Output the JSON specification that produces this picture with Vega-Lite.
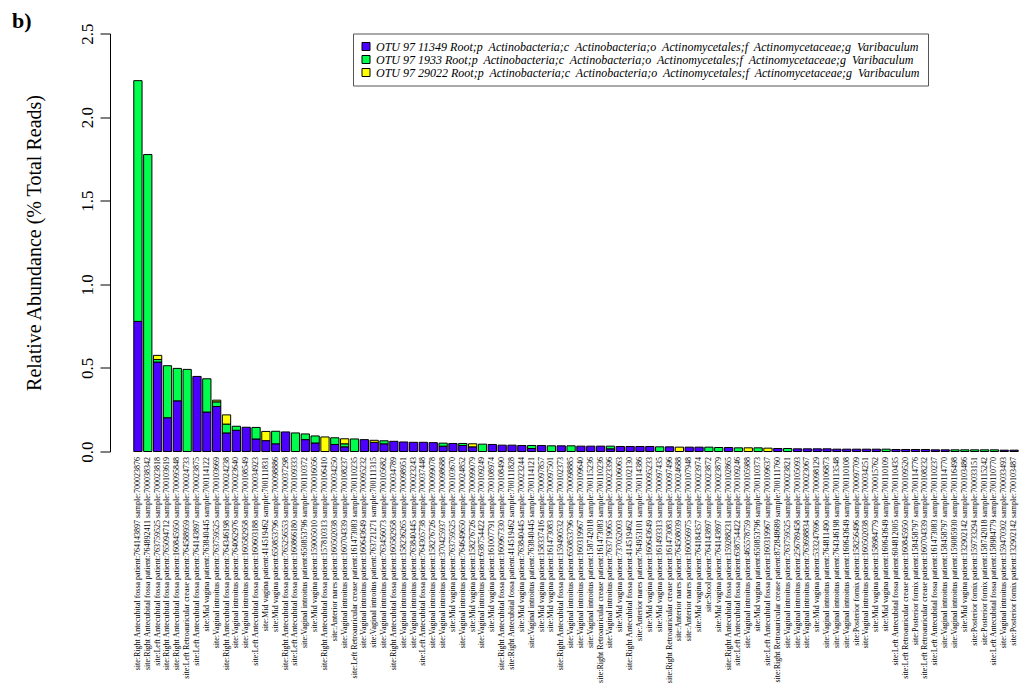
{
  "$schema": "https://vega.github.io/schema/vega-lite/v6.json",
  "width": 886,
  "height": 418,
  "autosize": "none",
  "padding": {"left": 133, "top": 33.5, "right": 0, "bottom": 242.5},
  "background": "white",
  "config": {"view": {"stroke": null}},
  "title": {"text": "b)", "anchor": "start", "frame": "group", "dx": -121, "dy": 14, "font": "Liberation Serif", "fontSize": 22, "fontWeight": "bold", "color": "black"},
  "data": {"values": [
    {"s": "site:Right Antecubital fossa patient:764143897 sample:700023876", "b": 0.778, "g": 1.44, "y": 0},
    {"s": "site:Right Antecubital fossa patient:764892411 sample:700038342", "b": 0, "g": 1.776, "y": 0},
    {"s": "site:Left Antecubital fossa patient:763759525 sample:700023818", "b": 0.535, "g": 0.015, "y": 0.025},
    {"s": "site:Right Antecubital fossa patient:765094712 sample:700103619", "b": 0.202, "g": 0.311, "y": 0},
    {"s": "site:Right Antecubital fossa patient:160845950 sample:700095848", "b": 0.303, "g": 0.194, "y": 0},
    {"s": "site:Left Retroauricular crease patient:764588959 sample:700024733", "b": 0, "g": 0.491, "y": 0},
    {"s": "site:Left Antecubital fossa patient:764143897 sample:700023875", "b": 0.449, "g": 0, "y": 0},
    {"s": "site:Mid vagina patient:763840445 sample:700114122", "b": 0.236, "g": 0.199, "y": 0},
    {"s": "site:Vaginal introitus patient:763759525 sample:700103669", "b": 0.269, "g": 0.028, "y": 0.01},
    {"s": "site:Right Antecubital fossa patient:764346198 sample:700024238", "b": 0.111, "g": 0.053, "y": 0.055},
    {"s": "site:Vaginal introitus patient:764062976 sample:700023640", "b": 0.127, "g": 0.024, "y": 0},
    {"s": "site:Vaginal introitus patient:160582958 sample:700108549", "b": 0.145, "g": 0, "y": 0},
    {"s": "site:Left Antecubital fossa patient:160603188 sample:700034923", "b": 0.075, "g": 0.069, "y": 0},
    {"s": "site:Mid vagina patient:414519462 sample:700111831", "b": 0.065, "g": 0, "y": 0.055},
    {"s": "site:Mid vagina patient:650853796 sample:700098886", "b": 0.046, "g": 0.075, "y": 0},
    {"s": "site:Right Antecubital fossa patient:765256553 sample:700037298", "b": 0.117, "g": 0, "y": 0},
    {"s": "site:Left Antecubital fossa patient:160866180 sample:700109333", "b": 0, "g": 0.111, "y": 0},
    {"s": "site:Vaginal introitus patient:650853796 sample:700110372", "b": 0.071, "g": 0.034, "y": 0},
    {"s": "site:Mid vagina patient:159005010 sample:700016056", "b": 0.051, "g": 0.042, "y": 0},
    {"s": "site:Right Antecubital fossa patient:157810313 sample:700106410", "b": 0, "g": 0, "y": 0.087},
    {"s": "site:Anterior nares patient:160502038 sample:700034250", "b": 0.042, "g": 0.04, "y": 0},
    {"s": "site:Vaginal introitus patient:160704339 sample:700108237", "b": 0.028, "g": 0.018, "y": 0.03},
    {"s": "site:Left Retroauricular crease patient:161473083 sample:700110235", "b": 0, "g": 0.075, "y": 0},
    {"s": "site:Vaginal introitus patient:160643649 sample:700095232", "b": 0.071, "g": 0, "y": 0},
    {"s": "site:Vaginal introitus patient:763721271 sample:700111315", "b": 0.055, "g": 0, "y": 0.012},
    {"s": "site:Vaginal introitus patient:763456073 sample:700105682", "b": 0.046, "g": 0.018, "y": 0},
    {"s": "site:Right Antecubital fossa patient:160582958 sample:700034789", "b": 0.061, "g": 0, "y": 0},
    {"s": "site:Vaginal introitus patient:158236265 sample:700098951", "b": 0.057, "g": 0, "y": 0},
    {"s": "site:Vaginal introitus patient:763840445 sample:700023243", "b": 0.055, "g": 0, "y": 0},
    {"s": "site:Left Antecubital fossa patient:764305738 sample:700037448", "b": 0.055, "g": 0, "y": 0},
    {"s": "site:Vaginal introitus patient:158276726 sample:700099078", "b": 0.053, "g": 0, "y": 0},
    {"s": "site:Vaginal introitus patient:370425937 sample:700098688", "b": 0.032, "g": 0.018, "y": 0},
    {"s": "site:Mid vagina patient:763759525 sample:700103670", "b": 0.048, "g": 0, "y": 0},
    {"s": "site:Vaginal introitus patient:764649650 sample:700024852", "b": 0.036, "g": 0.012, "y": 0},
    {"s": "site:Mid vagina patient:158276726 sample:700099079", "b": 0.028, "g": 0, "y": 0.018},
    {"s": "site:Vaginal introitus patient:638754422 sample:700109249", "b": 0, "g": 0.044, "y": 0},
    {"s": "site:Mid vagina patient:161007791 sample:700108974", "b": 0.042, "g": 0, "y": 0},
    {"s": "site:Right Antecubital fossa patient:160967330 sample:700108490", "b": 0.038, "g": 0, "y": 0},
    {"s": "site:Right Antecubital fossa patient:414519462 sample:700111828", "b": 0.038, "g": 0, "y": 0},
    {"s": "site:Mid vagina patient:763840445 sample:700023244", "b": 0.036, "g": 0, "y": 0},
    {"s": "site:Vaginal introitus patient:763840445 sample:700114121", "b": 0.018, "g": 0.018, "y": 0},
    {"s": "site:Mid vagina patient:158337416 sample:700097857", "b": 0.036, "g": 0, "y": 0},
    {"s": "site:Mid vagina patient:161473083 sample:700097501", "b": 0, "g": 0.034, "y": 0},
    {"s": "site:Right Antecubital fossa patient:159490532 sample:700102373", "b": 0.034, "g": 0, "y": 0},
    {"s": "site:Vaginal introitus patient:650853796 sample:700098885", "b": 0, "g": 0.034, "y": 0},
    {"s": "site:Vaginal introitus patient:160319967 sample:700109640", "b": 0.032, "g": 0, "y": 0},
    {"s": "site:Vaginal introitus patient:158742018 sample:700115236", "b": 0.032, "g": 0, "y": 0},
    {"s": "site:Right Retroauricular crease patient:161473083 sample:700110236", "b": 0.032, "g": 0, "y": 0},
    {"s": "site:Vaginal introitus patient:763719065 sample:700023396", "b": 0.016, "g": 0.016, "y": 0},
    {"s": "site:Mid vagina patient:737052003 sample:700106063", "b": 0.03, "g": 0, "y": 0},
    {"s": "site:Right Antecubital fossa patient:414519462 sample:700102130", "b": 0.03, "g": 0, "y": 0},
    {"s": "site:Anterior nares patient:764953101 sample:700114386", "b": 0.03, "g": 0, "y": 0},
    {"s": "site:Mid vagina patient:160643649 sample:700095233", "b": 0.03, "g": 0, "y": 0},
    {"s": "site:Mid vagina patient:161493313 sample:700097435", "b": 0, "g": 0.028, "y": 0},
    {"s": "site:Right Retroauricular crease patient:161473083 sample:700097496", "b": 0.028, "g": 0, "y": 0},
    {"s": "site:Anterior nares patient:764508039 sample:700024688", "b": 0, "g": 0, "y": 0.026},
    {"s": "site:Anterior nares patient:160056975 sample:700107948", "b": 0.026, "g": 0, "y": 0},
    {"s": "site:Mid vagina patient:764184357 sample:700023974", "b": 0.026, "g": 0, "y": 0},
    {"s": "site:Stool patient:764143897 sample:700023872", "b": 0, "g": 0.026, "y": 0},
    {"s": "site:Mid vagina patient:764143897 sample:700023879", "b": 0, "g": 0.024, "y": 0},
    {"s": "site:Right Antecubital fossa patient:159288231 sample:700102865", "b": 0.024, "g": 0, "y": 0},
    {"s": "site:Left Antecubital fossa patient:638754422 sample:700109246", "b": 0, "g": 0.022, "y": 0},
    {"s": "site:Vaginal introitus patient:465578759 sample:700105988", "b": 0, "g": 0, "y": 0.022},
    {"s": "site:Mid vagina patient:650853796 sample:700110373", "b": 0, "g": 0.022, "y": 0},
    {"s": "site:Left Antecubital fossa patient:160319967 sample:700109637", "b": 0, "g": 0, "y": 0.02},
    {"s": "site:Right Retroauricular crease patient:872848689 sample:700111760", "b": 0.018, "g": 0, "y": 0},
    {"s": "site:Vaginal introitus patient:763759525 sample:700023821", "b": 0, "g": 0.018, "y": 0},
    {"s": "site:Vaginal introitus patient:256789458 sample:700105093", "b": 0.016, "g": 0, "y": 0},
    {"s": "site:Vaginal introitus patient:763698834 sample:700023067", "b": 0.016, "g": 0, "y": 0},
    {"s": "site:Mid vagina patient:533247696 sample:700098129", "b": 0.016, "g": 0, "y": 0},
    {"s": "site:Vaginal introitus patient:764811490 sample:700106873", "b": 0.016, "g": 0, "y": 0},
    {"s": "site:Vaginal introitus patient:764346198 sample:700113548", "b": 0.014, "g": 0, "y": 0},
    {"s": "site:Vaginal introitus patient:160643649 sample:700110108", "b": 0.014, "g": 0, "y": 0},
    {"s": "site:Posterior fornix patient:158256496 sample:700097709", "b": 0.014, "g": 0, "y": 0},
    {"s": "site:Vaginal introitus patient:160502038 sample:700034251", "b": 0.014, "g": 0, "y": 0},
    {"s": "site:Mid vagina patient:158984779 sample:700015762", "b": 0.014, "g": 0, "y": 0},
    {"s": "site:Mid vagina patient:160643649 sample:700110109", "b": 0, "g": 0.014, "y": 0},
    {"s": "site:Left Antecubital fossa patient:604812005 sample:700110435", "b": 0.012, "g": 0, "y": 0},
    {"s": "site:Left Retroauricular crease patient:160845950 sample:700109520", "b": 0.012, "g": 0, "y": 0},
    {"s": "site:Posterior fornix patient:158458797 sample:700114776", "b": 0.012, "g": 0, "y": 0},
    {"s": "site:Left Retroauricular crease patient:160704339 sample:700108232", "b": 0.012, "g": 0, "y": 0},
    {"s": "site:Left Antecubital fossa patient:161473083 sample:700110237", "b": 0.01, "g": 0, "y": 0},
    {"s": "site:Vaginal introitus patient:158458797 sample:700114770", "b": 0.01, "g": 0, "y": 0},
    {"s": "site:Vaginal introitus patient:159085930 sample:700116498", "b": 0, "g": 0.01, "y": 0},
    {"s": "site:Mid vagina patient:132902142 sample:700103486", "b": 0, "g": 0.01, "y": 0},
    {"s": "site:Posterior fornix patient:159733294 sample:700033151", "b": 0, "g": 0.01, "y": 0},
    {"s": "site:Posterior fornix patient:158742018 sample:700115242", "b": 0, "g": 0.01, "y": 0},
    {"s": "site:Left Antecubital fossa patient:158984779 sample:700110770", "b": 0, "g": 0.01, "y": 0},
    {"s": "site:Vaginal introitus patient:159470302 sample:700033493", "b": 0.008, "g": 0, "y": 0},
    {"s": "site:Posterior fornix patient:132902142 sample:700103487", "b": 0.008, "g": 0, "y": 0}
  ]},
  "transform": [
    {"fold": ["b", "g", "y"], "as": ["otu", "v"]},
    {"filter": "datum.v > 0"}
  ],
  "mark": {"type": "bar", "stroke": "black", "strokeWidth": 1},
  "encoding": {
    "x": {
      "field": "s", "type": "nominal", "sort": null,
      "scale": {"paddingInner": 0.16, "paddingOuter": 0.08},
      "axis": {"title": null, "labelAngle": -90, "labelFont": "Liberation Serif", "labelFontSize": 8, "labelColor": "black", "domain": false, "ticks": false, "labelPadding": 5, "labelLimit": 0}
    },
    "y": {
      "field": "v", "type": "quantitative", "stack": "zero",
      "scale": {"domain": [0, 2.5], "nice": false, "zero": true},
      "axis": {"title": "Relative Abundance (% Total Reads)", "titleFont": "Liberation Serif", "titleFontSize": 20, "titleFontWeight": "normal", "titleColor": "black", "titlePadding": 34, "labelFont": "Liberation Serif", "labelFontSize": 17, "labelColor": "black", "labelAngle": -90, "labelAlign": "center", "labelBaseline": "bottom", "labelPadding": 4, "values": [0, 0.5, 1, 1.5, 2, 2.5], "format": ".1f", "offset": 23, "grid": false, "domainColor": "black", "tickColor": "black", "tickSize": 10}
    },
    "color": {
      "field": "otu", "type": "nominal",
      "scale": {"domain": ["b", "g", "y"], "range": ["#4C00FF", "#00FF4D", "#FFFF00"]},
      "legend": {"title": null, "orient": "none", "legendX": 220, "legendY": 0, "labelExpr": "{'b': 'OTU 97 11349', 'g': 'OTU 97 1933', 'y': 'OTU 97 29022'}[datum.value] + ' Root;p\u00a0 Actinobacteria;c\u00a0 Actinobacteria;o\u00a0 Actinomycetales;f\u00a0 Actinomycetaceae;g\u00a0 Varibaculum'", "labelFont": "Liberation Serif", "labelFontStyle": "italic", "labelFontSize": 12, "labelColor": "black", "labelLimit": 0, "symbolType": "square", "symbolSize": 64, "symbolStrokeColor": "black", "symbolStrokeWidth": 1, "symbolOpacity": 1, "strokeColor": "#555", "fillColor": "white", "padding": 7, "rowPadding": 1}
    },
    "order": {"field": "otu", "sort": "ascending"}
  }
}
